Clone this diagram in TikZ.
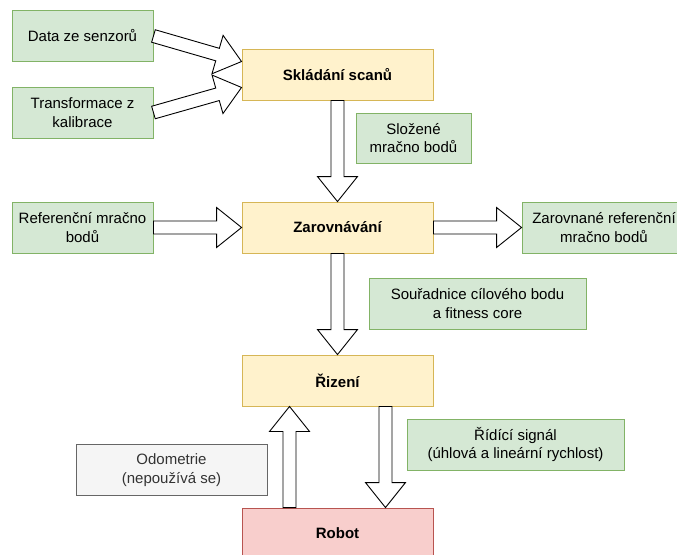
\documentclass[tikz,border=0pt]{standalone}
\usepackage{fontspec}
\setmainfont{Liberation Sans}
\usetikzlibrary{positioning}
\usetikzlibrary{calc}

\definecolor{greenfill}{HTML}{D5E8D4}
\definecolor{greenline}{HTML}{82B366}
\definecolor{yellowfill}{HTML}{FFF2CC}
\definecolor{yellowline}{HTML}{D6B656}
\definecolor{redfill}{HTML}{F8CECC}
\definecolor{redline}{HTML}{B85450}
\definecolor{greyfill}{HTML}{F5F5F5}
\definecolor{greyline}{HTML}{666666}
\definecolor{greytext}{HTML}{333333}

\tikzset{
	box/.style = {draw, line width = 0.9pt, align = center, inner sep = 2pt, minimum height = 51pt, font = \fontsize{15}{18.5}\selectfont},
	databox/.style = {box, fill = greenfill, draw = greenline},
	stagebox/.style = {box, fill = yellowfill, draw = yellowline, minimum width = 191pt, font = \fontsize{15}{18.5}\selectfont\bfseries},
	robotbox/.style = {box, fill = redfill, draw = redline, minimum width = 191pt, font = \fontsize{15}{18.5}\selectfont\bfseries},
	notebox/.style = {box, fill = greyfill, draw = greyline, text = greytext},
	flexarrow/.style = {draw = black, fill = white, line width = 0.9pt, line join = miter}
}

% wide hollow arrow from #1 to #2
\newcommand{\flexarrow}[2]{%
	\path (#1) coordinate (fa-s) (#2) coordinate (fa-e);
	\path ($(fa-e)!25pt!(fa-s)$) coordinate (fa-h);
	\draw [flexarrow] ($(fa-s)!6.5pt!90:(fa-e)$) -- ($(fa-h)!6.5pt!90:(fa-e)$) -- ($(fa-h)!20pt!90:(fa-e)$) -- (fa-e)
		-- ($(fa-h)!20pt!-90:(fa-e)$) -- ($(fa-h)!6.5pt!-90:(fa-e)$) -- ($(fa-s)!6.5pt!-90:(fa-e)$) -- cycle;}

\begin{document}
\begin{tikzpicture}[x = 1pt, y = -1pt]
	\useasboundingbox (0, 0) rectangle (677, 554);
	\clip (0, 0) rectangle (677, 554);

	% inputs
	\node [databox, minimum width = 141pt] (data) at (82.5, 36) {Data ze senzorů};
	\node [databox, minimum width = 141pt] (kalib) at (82.5, 112.5) {Transformace z\\kalibrace};
	\node [databox, minimum width = 141pt] (refmrak) at (82.5, 227.5) {Referenční mračno\\bodů};

	% stages
	\node [stagebox] (sklad) at (337.5, 74.5) {Skládání scanů};
	\node [stagebox] (zarov) at (337.5, 227.5) {Zarovnávání};
	\node [stagebox] (rizeni) at (337.5, 380.5) {Řizení};
	\node [robotbox] (robot) at (337.5, 533.5) {Robot};

	% labels
	\node [databox, minimum width = 115pt, minimum height = 50pt] (slozene) at (413.5, 138) {Složené\\mračno bodů};
	\node [databox, minimum width = 164pt] (zarmrak) at (604, 227.5) {Zarovnané referenční\\mračno bodů};
	\node [databox, minimum width = 217pt] (cil) at (477.5, 303.5) {Souřadnice cílového bodu\\a fitness core};
	\node [databox, minimum width = 217pt] (signal) at (515.5, 444.5) {Řídící signál\\(úhlová a lineární rychlost)};
	\node [notebox, minimum width = 191pt] (odom) at (171.5, 470) {Odometrie\\(nepoužívá se)};

	% arrows
	\flexarrow{data.east}{$(sklad.north west)!0.25!(sklad.south west)$}
	\flexarrow{kalib.east}{$(sklad.north west)!0.75!(sklad.south west)$}
	\flexarrow{sklad.south}{zarov.north}
	\flexarrow{refmrak.east}{zarov.west}
	\flexarrow{zarov.east}{zarmrak.west}
	\flexarrow{zarov.south}{rizeni.north}
	\flexarrow{$(robot.north west)!0.25!(robot.north east)$}{$(rizeni.south west)!0.25!(rizeni.south east)$}
	\flexarrow{$(rizeni.south west)!0.75!(rizeni.south east)$}{$(robot.north west)!0.75!(robot.north east)$}
\end{tikzpicture}
\end{document}
